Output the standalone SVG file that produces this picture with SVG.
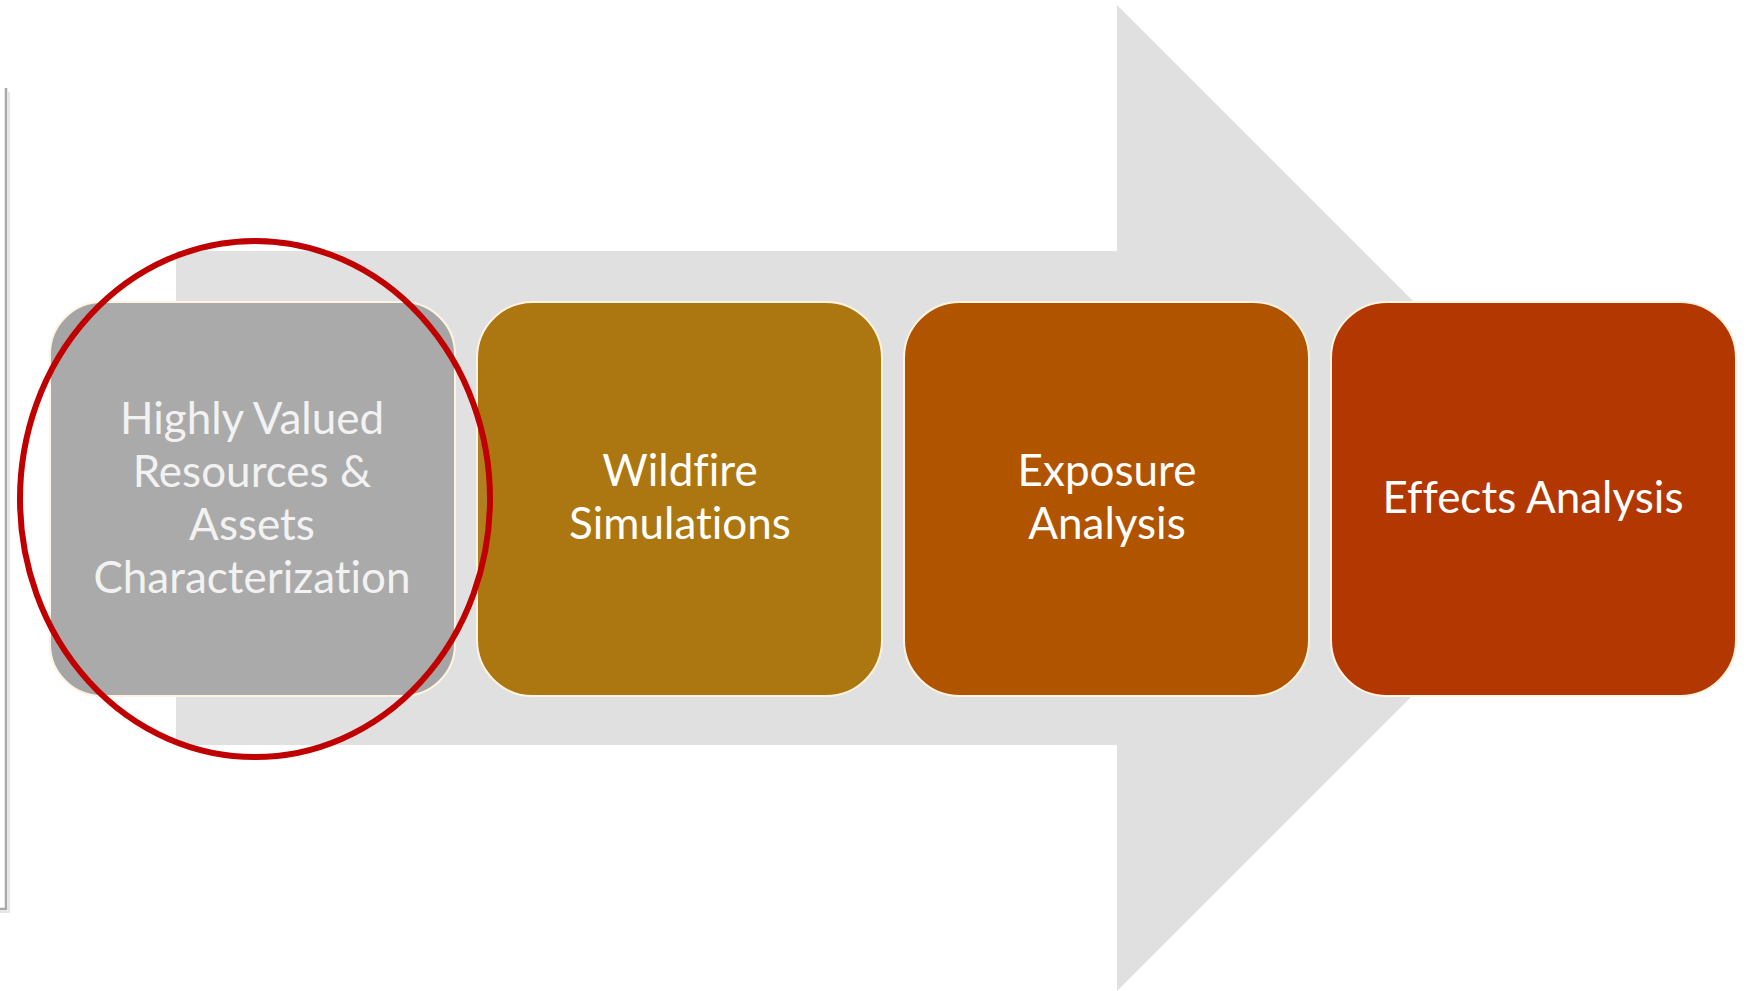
<svg xmlns="http://www.w3.org/2000/svg" width="1750" height="991" viewBox="0 0 1750 991">
  <style>
    .box { stroke: #fff4e2; stroke-width: 2; }
    .lbl { font-family: Lato, "Open Sans", "Liberation Sans", sans-serif; font-size: 44px; fill: #ffffff; text-anchor: middle; font-variant-ligatures: none; }
    .lbl1 { fill: #f2f2f2; }
  </style>
  <rect x="0" y="0" width="1750" height="991" fill="#ffffff"/>
  <g id="panel-edge">
    <path d="M0,909 L6,909 L6,88" fill="none" stroke="#a9a9a9" stroke-width="2.5"/>
    <path d="M0,912 L9,912 L9,92" fill="none" stroke="#e6e6e6" stroke-width="2"/>
  </g>
  <g id="process-arrow">
    <polygon points="176,251 1117,251 1117,5 1610,498 1117,991 1117,745 176,745" fill="#e0e0e0"/>
  </g>
  <g id="connectors"></g>
  <g id="node-hvra">
    <rect class="box" x="50" y="302" width="405" height="394" rx="52" ry="52" fill="#a5a5a5" stroke="#d0d0d0"/>
    <text class="lbl lbl1" x="252" y="434">Highly Valued</text>
    <text class="lbl lbl1" x="252" y="487">Resources &amp;</text>
    <text class="lbl lbl1" x="252" y="540">Assets</text>
    <text class="lbl lbl1" x="252" y="593">Characterization</text>
  </g>
  <g id="node-wildfire">
    <rect class="box" x="477" y="302" width="405" height="394" rx="56" ry="56" fill="#ac7710"/>
    <text class="lbl" x="680" y="486">Wildfire</text>
    <text class="lbl" x="680" y="539">Simulations</text>
  </g>
  <g id="node-exposure">
    <rect class="box" x="904" y="302" width="405" height="394" rx="56" ry="56" fill="#b05400"/>
    <text class="lbl" x="1107" y="486">Exposure</text>
    <text class="lbl" x="1107" y="539">Analysis</text>
  </g>
  <g id="node-effects">
    <rect class="box" x="1331" y="302" width="405" height="394" rx="56" ry="56" fill="#b33700"/>
    <text class="lbl" x="1533" y="513">Effects Analysis</text>
  </g>
  <g id="highlight">
    <ellipse cx="255" cy="499" rx="235" ry="258" fill="#ffffff" fill-opacity="0.06" stroke="#c00000" stroke-width="6"/>
  </g>
</svg>
